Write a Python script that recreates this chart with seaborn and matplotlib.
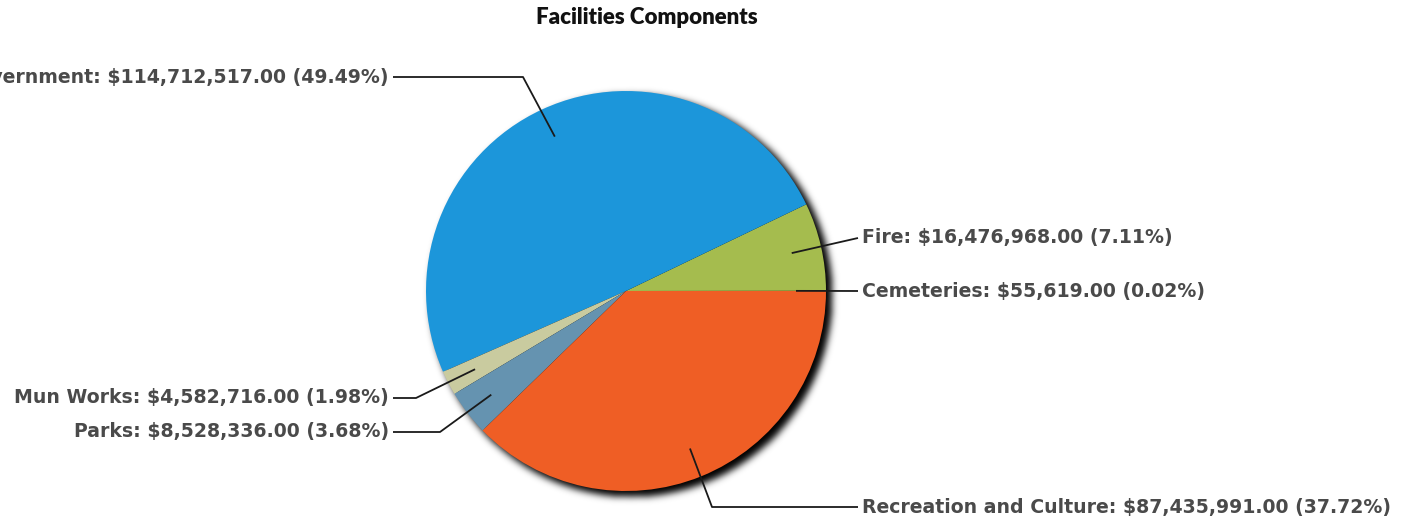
import numpy as np
import matplotlib
matplotlib.use("Agg")
import matplotlib.pyplot as plt
import seaborn as sns

# Facilities component totals (dollars) and their shares
categories = ["Cemeteries", "Fire", "General Government", "Mun Works", "Parks",
              "Recreation and Culture"]
amounts = [55619.00, 16476968.00, 114712517.00, 4582716.00, 8528336.00, 87435991.00]
shares = [0.02, 7.11, 49.49, 1.98, 3.68, 37.72]
colors = ["#E8A13A", "#A5BC4E", "#1C96DA", "#C9CB9F", "#6593B0", "#EF5E25"]

sns.set_theme(style="white")
plt.rcParams["font.family"] = ["DejaVu Sans"]

W, H = 1410, 523
fig = plt.figure(figsize=(W / 100, H / 100), dpi=100)
ax = fig.add_axes([0, 0, 1, 1])
ax.set_xlim(0, W)
ax.set_ylim(0, H)
ax.set_aspect("equal")
ax.axis("off")

cx, cy, R = 626, H - 291, 200

# soft drop shadow under the pie (blurred disc shifted down-right)
pad = 40
xs = np.arange(cx - R - pad, cx + R + pad + 1)
ys = np.arange(cy - R - pad, cy + R + pad + 1)
XX, YY = np.meshgrid(xs, ys)
disc = (((XX - (cx + 5)) ** 2 + (YY - (cy - 5)) ** 2) <= (R + 1) ** 2).astype(float)
sig = 3.5
k = np.arange(-12, 13)
ker = np.exp(-k ** 2 / (2 * sig ** 2))
ker /= ker.sum()
blur = np.apply_along_axis(lambda r: np.convolve(r, ker, mode="same"), 1, disc)
blur = np.apply_along_axis(lambda c: np.convolve(c, ker, mode="same"), 0, blur)
rgba = np.zeros(blur.shape + (4,))
rgba[..., 3] = np.clip(blur * 1.0, 0, 1)
ax.imshow(rgba, extent=(xs[0] - 0.5, xs[-1] + 0.5, ys[0] - 0.5, ys[-1] + 0.5),
          origin="lower", zorder=1, interpolation="bilinear")

wedges, _ = ax.pie(amounts, colors=colors, startangle=0, counterclock=True,
                   center=(cx, cy), radius=R, frame=True,
                   wedgeprops=dict(linewidth=0, antialiased=True))
for w in wedges:
    w.set_zorder(2)
ax.set_xlim(0, W)
ax.set_ylim(0, H)
ax.axis("off")

# label placement: (side, label y, elbow x or None)
layout = {
    "Cemeteries": ("right", 291, None),
    "Fire": ("right", 238, None),
    "General Government": ("left", 77, 523),
    "Mun Works": ("left", 398, 416),
    "Parks": ("left", 432, 440),
    "Recreation and Culture": ("right", 507, 712),
}

txt_color = "#4a4a4a"
for w, name, amt, pct in zip(wedges, categories, amounts, shares):
    mid = np.deg2rad((w.theta1 + w.theta2) / 2)
    ax0 = cx + 0.85 * R * np.cos(mid)
    ay0 = cy + 0.85 * R * np.sin(mid)
    side, ly, elbow = layout[name]
    ly = H - ly
    end_x = 393 if side == "left" else 858
    pts_x = [ax0]
    pts_y = [ay0]
    if elbow is not None:
        pts_x.append(elbow)
        pts_y.append(ly)
    pts_x.append(end_x)
    pts_y.append(ly)
    ax.plot(pts_x, pts_y, color="#1a1a1a", lw=1.3, zorder=3, solid_capstyle="butt")
    label = f"{name}: ${amt:,.2f} ({pct:.2f}%)"
    if side == "left":
        ax.text(389, ly, label, ha="right", va="center", fontsize=13.6,
                fontweight="bold", color=txt_color, zorder=4)
    else:
        ax.text(862, ly, label, ha="left", va="center", fontsize=13.6,
                fontweight="bold", color=txt_color, zorder=4)

ax.text(647, H - 17, "Facilities Components", ha="center", va="center",
        fontsize=16, fontweight="heavy", color="#111111", family=["Lato", "DejaVu Sans"])

fig.savefig("out.png", dpi=100)
